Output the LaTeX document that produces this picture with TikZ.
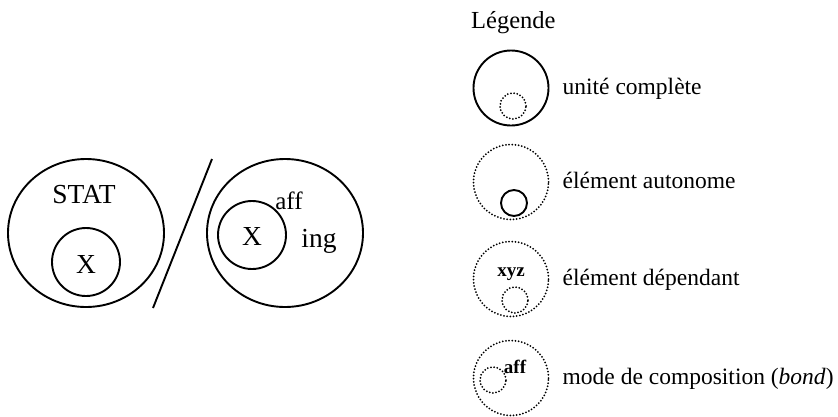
\documentclass[tikz,border=0pt]{standalone}
\usepackage{fontspec}
\setmainfont{Liberation Serif}
\usetikzlibrary{positioning}
\usetikzlibrary{shapes}

\begin{document}
\begin{tikzpicture}[x=1pt,y=-1pt,
    whole/.style={draw,ellipse,line width=1.9pt,inner sep=0pt,
minimum width=156pt,minimum height=148pt},
    part/.style={draw,circle,line width=1.9pt,inner sep=0pt,minimum size=68pt},
    dots/.style={line width=2pt,line cap=round,dash pattern=on 0pt off 3.2pt},
    key/.style={draw,circle,inner sep=0pt,minimum size=75pt},
    subkey/.style={draw,circle,inner sep=0pt,minimum size=26pt},
    word/.style={font=\fontsize{27.5}{32}\selectfont,inner sep=0pt,anchor=base},
    keytext/.style={font=\fontsize{23.5}{28}\selectfont,inner sep=0pt,
text height=16pt,text depth=4pt,node distance=13pt},
    tag/.style={font=\bfseries\fontsize{19}{22}\selectfont,inner sep=0pt}]
\useasboundingbox (0,0) rectangle (838,416);

% STAT / X-ing
\node[whole] (stat) at (86,233) {};
\node[part] (statx) at (86,262) {};
\node[word] (statlbl) at (84,203) {STAT};
\node[word] (statxlbl) at (86,273) {X};
\coordinate (slashtop) at (212,159);
\coordinate (slashbot) at (153,308);
\draw[line width=1.9pt] (slashtop) -- (slashbot);
\node[whole] (ing) at (285,233) {};
\node[part] (ingx) at (252,235) {};
\node[word] (ingxlbl) at (252,245) {X};
\node[word,font=\fontsize{25}{29}\selectfont] (afflbl) at (289,209) {aff};
\node[word] (inglbl) at (319,247) {ing};

% legend
\node[font=\fontsize{24.5}{28}\selectfont,inner sep=0pt,anchor=base west]
  (legend) at (471,28) {Légende};

\node[key,line width=1.9pt] (key1) at (511,88) {};
\node[subkey,dots] (sub1) at (513,106) {};
\node[keytext] (txt1) [right=of key1] {unité complète};

\node[key,dots] (key2) at (511,182) {};
\node[subkey,line width=1.9pt] (sub2) at (514,203) {};
\node[keytext] (txt2) [right=of key2] {élément autonome};

\node[key,dots] (key3) at (511,279) {};
\node[subkey,dots] (sub3) at (515,300) {};
\node[tag] (xyz) at (511,274) {xyz};
\node[keytext] (txt3) [right=of key3] {élément dépendant};

\node[key,dots] (key4) at (511,378) {};
\node[subkey,dots] (sub4) at (493,380) {};
\node[tag] (aff) at (515,367) {aff};
\node[keytext] (txt4) [right=of key4] {mode de composition (\textit{bond})};
\end{tikzpicture}
\end{document}
